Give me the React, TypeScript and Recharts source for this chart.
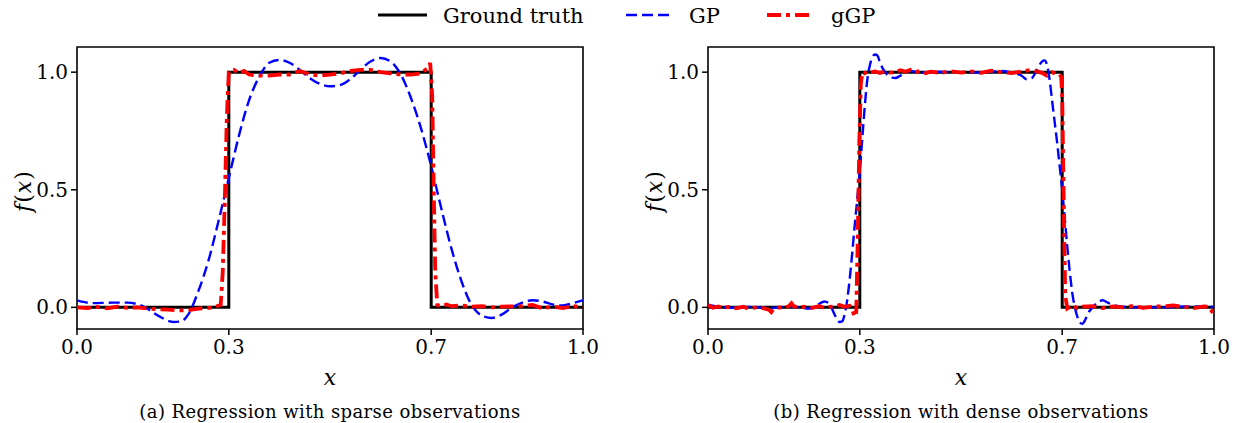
import React from "react";
import { LineChart, Line, XAxis, YAxis, ReferenceArea } from "recharts";

const FONT = "DejaVu Serif";

const xTicks = [0, 0.3, 0.7, 1.0];
const xTickLabels = ["0.0", "0.3", "0.7", "1.0"];
const yTicks = [0, 0.5, 1.0];
const yTickLabels = ["0.0", "0.5", "1.0"];
const xDomain = [0, 1];
const yDomain = [-0.092, 1.107];

const legendLabels = ["Ground truth", "GP", "gGP"];
const captions = [
  "(a) Regression with sparse observations",
  "(b) Regression with dense observations",
];

// Ground truth (same for both panels)
const truthX = [0, 0.3, 0.3, 0.7, 0.7, 1.0];
const truthY = [0, 0, 1, 1, 0, 0];

// (a) sparse: GP
const sparseGpX = [0, 0.03, 0.07, 0.1, 0.13, 0.16, 0.19, 0.205, 0.22, 0.24, 0.26, 0.28, 0.3, 0.32, 0.34, 0.36, 0.38, 0.4, 0.42, 0.44, 0.46, 0.48, 0.5, 0.52, 0.54, 0.56, 0.58, 0.6, 0.62, 0.64, 0.66, 0.68, 0.7, 0.72, 0.74, 0.76, 0.78, 0.8, 0.82, 0.84, 0.86, 0.88, 0.9, 0.92, 0.94, 0.96, 0.98, 1.0];
const sparseGpY = [0.03, 0.018, 0.02, 0.02, 0.005, -0.035, -0.062, -0.06, -0.03, 0.07, 0.2, 0.37, 0.55, 0.73, 0.88, 0.98, 1.04, 1.052, 1.04, 1.01, 0.975, 0.95, 0.94, 0.945, 0.97, 1.01, 1.045, 1.06, 1.045, 0.99, 0.89, 0.76, 0.6, 0.42, 0.25, 0.11, 0.01, -0.035, -0.045, -0.03, 0.0, 0.02, 0.03, 0.025, 0.012, 0.008, 0.018, 0.03];

// (a) sparse: gGP
const sparseGgX = [0, 0.02, 0.04, 0.06, 0.08, 0.1, 0.12, 0.14, 0.16, 0.18, 0.2, 0.22, 0.24, 0.26, 0.27, 0.28, 0.284, 0.288, 0.292, 0.296, 0.3, 0.305, 0.31, 0.32, 0.33, 0.34, 0.36, 0.38, 0.4, 0.42, 0.44, 0.46, 0.48, 0.5, 0.52, 0.54, 0.56, 0.58, 0.6, 0.62, 0.64, 0.66, 0.68, 0.695, 0.698, 0.702, 0.705, 0.708, 0.712, 0.72, 0.73, 0.74, 0.76, 0.78, 0.8, 0.82, 0.84, 0.86, 0.88, 0.9, 0.92, 0.94, 0.96, 0.98, 1.0];
const sparseGgY = [0.0, -0.003, 0.002, -0.004, 0.003, -0.002, 0.0, -0.005, -0.008, -0.01, -0.013, -0.012, -0.005, -0.002, 0.0, 0.008, 0.01, 0.15, 0.45, 0.8, 1.0, 1.005, 1.01, 0.995, 1.005, 0.99, 0.985, 0.985, 0.99, 0.99, 1.005, 0.99, 0.985, 0.99, 0.995, 1.005, 1.01, 1.01, 1.0, 0.995, 0.99, 0.99, 0.995, 1.02, 1.04, 0.9, 0.5, 0.15, 0.01, 0.005, 0.012, 0.005, 0.008, 0.003, 0.005, 0.0, 0.003, 0.004, 0.006, 0.01, -0.004, 0.003, -0.003, 0.005, 0.002];

// (b) dense: GP
const denseGpX = [0, 0.02, 0.04, 0.06, 0.08, 0.1, 0.12, 0.14, 0.16, 0.18, 0.2, 0.21, 0.22, 0.23, 0.24, 0.25, 0.26, 0.265, 0.27, 0.275, 0.28, 0.285, 0.29, 0.295, 0.3, 0.305, 0.31, 0.315, 0.32, 0.325, 0.33, 0.335, 0.34, 0.35, 0.36, 0.37, 0.38, 0.39, 0.4, 0.42, 0.45, 0.5, 0.55, 0.58, 0.6, 0.62, 0.63, 0.64, 0.65, 0.66, 0.665, 0.67, 0.675, 0.68, 0.685, 0.69, 0.695, 0.7, 0.705, 0.71, 0.715, 0.72, 0.725, 0.73, 0.735, 0.74, 0.745, 0.75, 0.76, 0.77, 0.78, 0.79, 0.8, 0.82, 0.85, 0.9, 0.95, 1.0];
const denseGpY = [0.01, 0.003, -0.002, 0.0, 0.002, 0.0, -0.003, 0.0, 0.004, 0.0, -0.005, -0.002, 0.015, 0.025, 0.015, -0.03, -0.062, -0.06, -0.03, 0.03, 0.12, 0.23, 0.35, 0.46, 0.58, 0.72, 0.86, 0.97, 1.03, 1.065, 1.075, 1.07, 1.04, 1.0, 0.98, 0.975, 0.985, 1.0, 1.005, 0.998, 1.002, 0.998, 1.0, 1.005, 0.998, 0.985, 0.97, 0.975, 1.01, 1.045, 1.05, 1.03, 0.97, 0.88, 0.79, 0.7, 0.6, 0.5, 0.38, 0.26, 0.15, 0.06, 0.0, -0.04, -0.065, -0.07, -0.055, -0.03, 0.0, 0.02, 0.03, 0.02, 0.01, 0.003, 0.0, 0.0, 0.004, 0.002];

// (b) dense: gGP
const denseGgX = [0, 0.01, 0.02, 0.03, 0.04, 0.05, 0.06, 0.07, 0.08, 0.09, 0.1, 0.11, 0.12, 0.125, 0.13, 0.14, 0.15, 0.16, 0.165, 0.17, 0.18, 0.19, 0.2, 0.21, 0.22, 0.23, 0.24, 0.25, 0.26, 0.27, 0.28, 0.285, 0.29, 0.293, 0.296, 0.299, 0.302, 0.305, 0.31, 0.315, 0.32, 0.33, 0.34, 0.35, 0.36, 0.37, 0.38, 0.39, 0.4, 0.41, 0.42, 0.43, 0.44, 0.46, 0.48, 0.5, 0.52, 0.54, 0.56, 0.58, 0.6, 0.62, 0.64, 0.66, 0.67, 0.68, 0.69, 0.695, 0.698, 0.7, 0.702, 0.704, 0.706, 0.71, 0.72, 0.73, 0.74, 0.76, 0.78, 0.8, 0.82, 0.84, 0.86, 0.88, 0.9, 0.92, 0.94, 0.96, 0.98, 0.99, 1.0];
const denseGgY = [0.01, -0.002, 0.004, -0.003, 0.002, -0.005, -0.002, 0.003, -0.006, -0.002, 0.002, -0.004, -0.01, -0.02, -0.005, 0.0, -0.003, 0.006, 0.018, 0.004, -0.002, 0.003, -0.004, 0.0, 0.006, -0.003, 0.002, 0.004, 0.01, 0.002, 0.006, -0.01, -0.04, -0.02, 0.3, 0.7, 0.95, 1.0, 0.995, 1.005, 0.998, 1.003, 0.996, 1.004, 0.998, 1.0, 1.008, 1.002, 1.01, 1.0, 1.006, 0.996, 1.002, 0.997, 1.004, 0.998, 1.003, 0.997, 1.006, 1.0, 0.996, 1.003, 1.01, 0.997, 0.985, 1.0, 0.99, 0.99, 0.98, 0.9, 0.6, 0.3, 0.05, -0.005, 0.01, -0.004, 0.003, 0.005, -0.003, 0.004, 0.0, 0.006, -0.002, 0.003, 0.005, 0.008, 0.002, -0.003, 0.004, 0.002, -0.03];

const toPts = (xs: number[], ys: number[]) => xs.map((x, i) => ({ x, y: ys[i] }));

const BLUE = "#0000ff";
const RED = "#ff0000";

function Panel(props: { left: number; gpX: number[]; gpY: number[]; ggX: number[]; ggY: number[] }) {
  const { left, gpX, gpY, ggX, ggY } = props;
  const tickStyle = { fill: "#000", fontSize: 20, fontFamily: FONT };
  return (
    <div style={{ position: "absolute", left, top: 0, width: 600, height: 370 }}>
      <LineChart width={600} height={370} margin={{ top: 47, right: 17, bottom: 11, left: 17 }}>
        <XAxis
          dataKey="x"
          type="number"
          domain={xDomain}
          ticks={xTicks}
          interval={0}
          allowDataOverflow
          tickFormatter={(v: number, i: number) => xTickLabels[i]}
          axisLine={false}
          tickLine={{ stroke: "#000", strokeWidth: 1.5 }}
          tickSize={6}
          tickMargin={5}
          height={30}
          tick={tickStyle}
        />
        <YAxis
          dataKey="y"
          type="number"
          domain={yDomain}
          ticks={yTicks}
          interval={0}
          allowDataOverflow
          tickFormatter={(v: number, i: number) => yTickLabels[i]}
          axisLine={false}
          tickLine={{ stroke: "#000", strokeWidth: 1.5 }}
          tickSize={6}
          tickMargin={3}
          width={60}
          tick={tickStyle}
        />
        <Line data={toPts(truthX, truthY)} dataKey="y" type="linear" stroke="#000" strokeWidth={3} dot={false} activeDot={false} isAnimationActive={false} />
        <Line data={toPts(gpX, gpY)} dataKey="y" type="monotone" stroke={BLUE} strokeWidth={2.4} strokeDasharray="11 5" dot={false} activeDot={false} isAnimationActive={false} />
        <Line data={toPts(ggX, ggY)} dataKey="y" type="linear" stroke={RED} strokeWidth={3.8} strokeDasharray="14 5 4 5" dot={false} activeDot={false} isAnimationActive={false} />
        <ReferenceArea x1={xDomain[0]} x2={xDomain[1]} y1={yDomain[0]} y2={yDomain[1]} fill="none" fillOpacity={0} stroke="#000" strokeWidth={1.6} ifOverflow="visible" />
      </LineChart>
    </div>
  );
}

export default function App() {
  const plotCenters = [330, 961];
  const ylabX = [23, 654];
  return (
    <div style={{ position: "absolute", left: 0, top: 0, width: 1237, height: 423, background: "#fff", overflow: "hidden" }}>
      <Panel left={0} gpX={sparseGpX} gpY={sparseGpY} ggX={sparseGgX} ggY={sparseGgY} />
      <Panel left={631} gpX={denseGpX} gpY={denseGpY} ggX={denseGgX} ggY={denseGgY} />
      <svg width={1237} height={423} style={{ position: "absolute", left: 0, top: 0, pointerEvents: "none", fontFamily: FONT }}>
        {/* legend */}
        <line x1={378} y1={15} x2={427} y2={15} stroke="#000" strokeWidth={3} />
        <text x={443} y={23} fontSize={21} fill="#000">{legendLabels[0]}</text>
        <line x1={626} y1={15} x2={672} y2={15} stroke={BLUE} strokeWidth={2.4} strokeDasharray="11 5" />
        <text x={689} y={23} fontSize={21} fill="#000">{legendLabels[1]}</text>
        <line x1={767} y1={15} x2={809} y2={15} stroke={RED} strokeWidth={3.8} strokeDasharray="14 5 4 5" />
        <text x={831} y={23} fontSize={21} fill="#000">{legendLabels[2]}</text>
        {plotCenters.map((cx, i) => (
          <g key={i}>
            <text x={cx} y={385} fontSize={22} fontStyle="italic" textAnchor="middle" fill="#000">x</text>
            <text x={cx} y={418} fontSize={18} letterSpacing={0.4} textAnchor="middle" fill="#000">{captions[i]}</text>
            <text
              x={ylabX[i]}
              y={191}
              fontSize={22}
              textAnchor="middle"
              dominantBaseline="central"
              letterSpacing={1}
              transform={`rotate(-90, ${ylabX[i]}, 191)`}
              fill="#000"
            >
              <tspan fontStyle="italic">f</tspan>(<tspan fontStyle="italic">x</tspan>)
            </text>
          </g>
        ))}
      </svg>
    </div>
  );
}
